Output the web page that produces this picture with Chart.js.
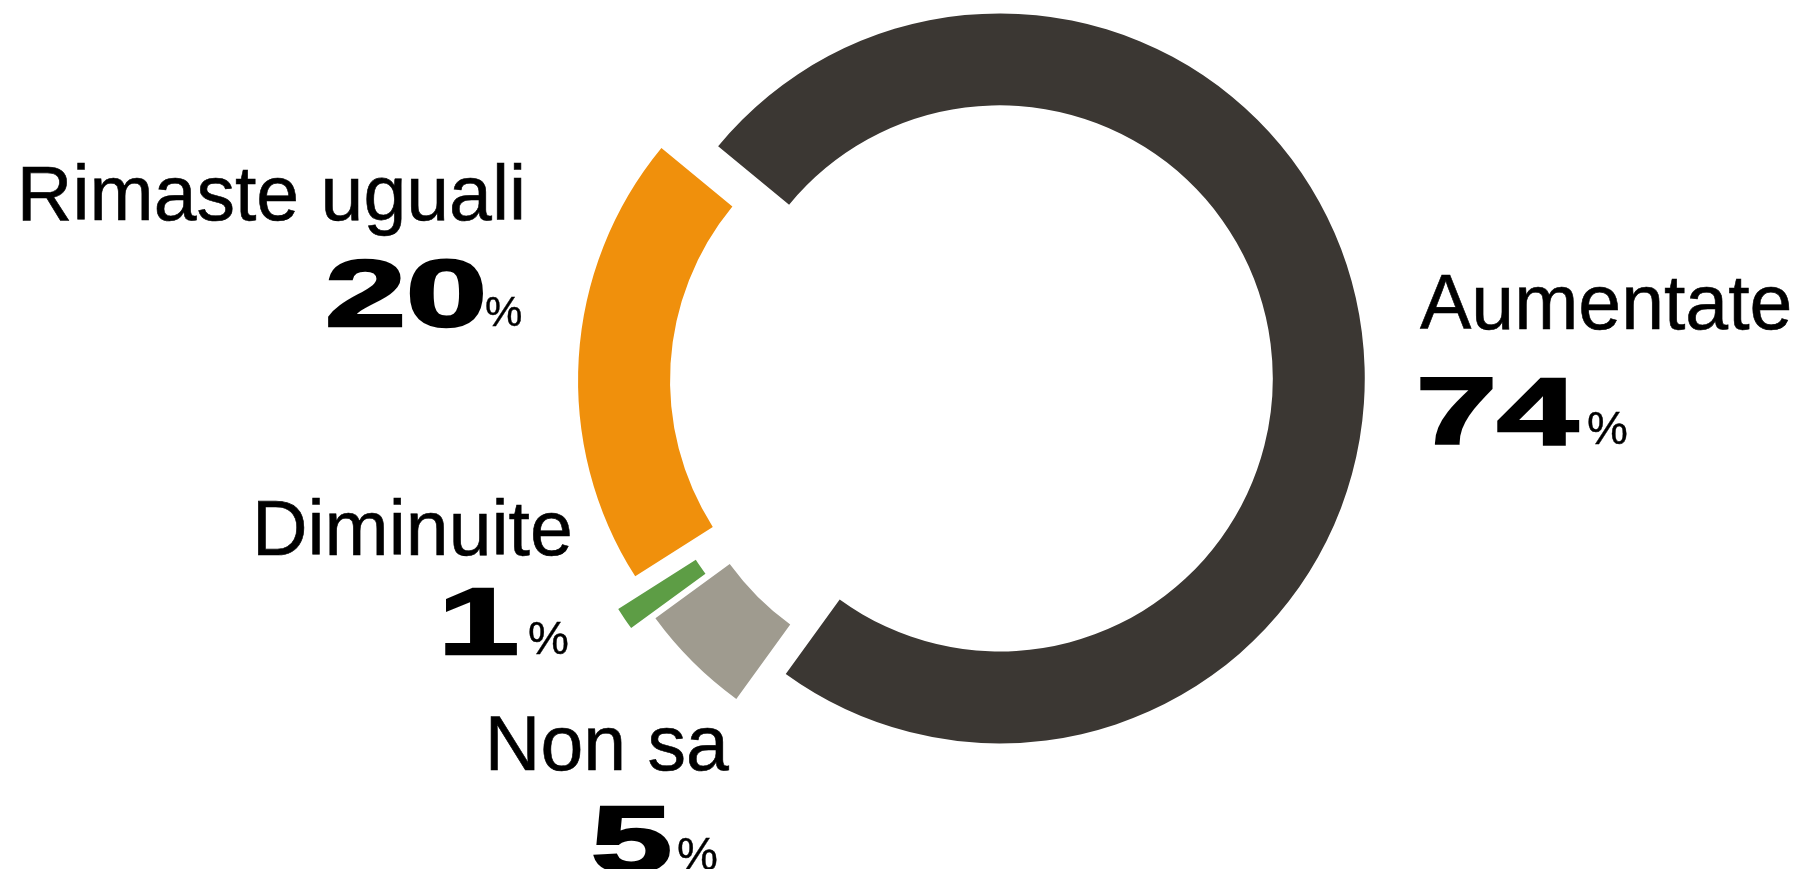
<!DOCTYPE html>
<html>
<head>
<meta charset="utf-8">
<script src="https://cdn.jsdelivr.net/npm/chart.js@4.4.1/dist/chart.umd.min.js"></script>
<style>
  html, body { margin: 0; padding: 0; background: #fff; }
  #wrap { position: relative; width: 1801px; height: 869px; overflow: hidden; }
  #wrap canvas { position: absolute; left: 0; top: 0; }
  .lbl { position: absolute; white-space: nowrap; color: #000; transform-origin: 0 0; }
</style>
</head>
<body>
<div id="wrap"><canvas id="donut" width="1801" height="869"></canvas></div>
<script>
const categories = ['Aumentate', 'Non sa', 'Diminuite', 'Rimaste uguali'];
const shares = [74, 5, 1, 20];
const sliceColors = ['#3b3733', '#9f9b8f', '#5d9d45', '#f0900c'];

// label layout: anchored ink edge (x) and baseline (y) for name, number and % sign
const labelSpots = [
    { side: 'left',  name: [1420, 329], num: [1422, 444], pct: [1588, 444], pctSize: 46 },
    { side: 'right', name: [729, 770],  num: [668, 872],  pct: [717, 870],  pctSize: 46 },
    { side: 'right', name: [570, 555],  num: [515, 654],  pct: [568, 654],  pctSize: 46 },
    { side: 'right', name: [521, 220],  num: [482, 326],  pct: [521, 326],  pctSize: 42 }
];

const wrap = document.getElementById('wrap');
const meas = document.createElement('canvas').getContext('2d');

// put a text so that its ink edge sits at x and its baseline at y
function place(text, weight, size, scale, side, x, y, stroke) {
    const font = weight + ' ' + size + 'px "Liberation Sans", Arial, sans-serif';
    meas.font = font;
    const m = meas.measureText(text);
    const asc = m.fontBoundingBoxAscent, desc = m.fontBoundingBoxDescent;
    const left = side === 'left'
        ? x + m.actualBoundingBoxLeft * scale
        : x - m.actualBoundingBoxRight * scale;
    const el = document.createElement('div');
    el.className = 'lbl';
    el.textContent = text;
    el.style.font = font;
    el.style.lineHeight = size + 'px';
    el.style.left = left + 'px';
    el.style.top = (y - ((size - asc - desc) / 2 + asc)) + 'px';
    if (scale !== 1) el.style.transform = 'scaleX(' + scale + ')';
    if (stroke) el.style.webkitTextStroke = stroke + 'px #000';
    wrap.appendChild(el);
}

labelSpots.forEach((s, i) => {
    place(categories[i], 'normal', 77, 1, s.side, s.name[0], s.name[1], 0.6);
    place(String(shares[i]), 'bold', 94, 1.55, s.side, s.num[0], s.num[1], 2.5);
    place('%', 'normal', s.pctSize, 1, s.side, s.pct[0], s.pct[1], 0.4);
});

// push each slice outward along its own middle angle
const explode = {
    id: 'explode',
    afterDatasetUpdate(chart, args, opts) {
        args.meta.data.forEach((arc, i) => {
            const d = opts.distances[i] || 0;
            const mid = (arc.startAngle + arc.endAngle) / 2;
            arc.x += Math.cos(mid) * d;
            arc.y += Math.sin(mid) * d;
        });
    }
};

const ctx = document.getElementById('donut').getContext('2d');
new Chart(ctx, {
    type: 'doughnut',
    data: {
        labels: categories,
        datasets: [{
            data: shares,
            backgroundColor: sliceColors,
            borderWidth: 0
        }]
    },
    options: {
        responsive: false,
        animation: false,
        events: [],
        rotation: 309.5,
        radius: 365,
        cutout: '74.8%',
        layout: { padding: { left: 142, right: 0, top: 0, bottom: 105 } },
        plugins: {
            legend: { display: false },
            tooltip: { enabled: false },
            explode: { distances: [28.5, 30, 55, 28.5] }
        }
    },
    plugins: [explode]
});
</script>
</body>
</html>
